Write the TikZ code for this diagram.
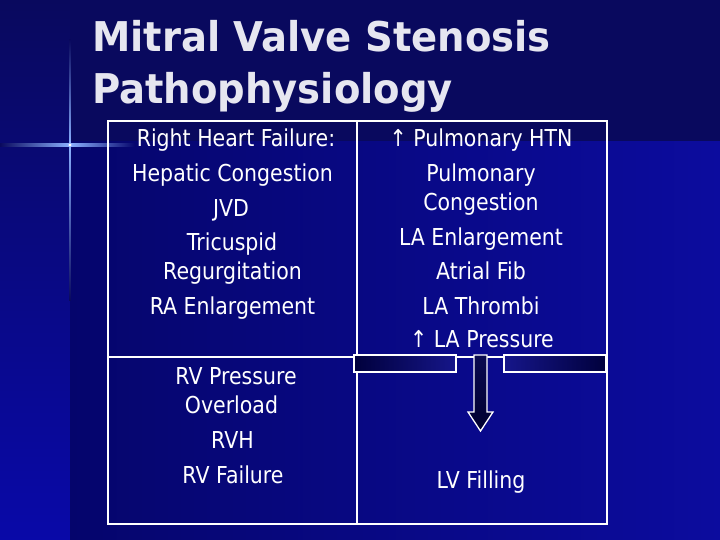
\documentclass[tikz,border=0pt]{standalone}
\usepackage{fontspec}
\usepackage{graphicx}
\newfontfamily\dejavu{DejaVu Sans}
\definecolor{bgtop}{HTML}{09095E}
\definecolor{stripbot}{HTML}{0909A8}
\definecolor{bgleft}{HTML}{05056C}
\definecolor{bgmid}{HTML}{0A0A90}
\definecolor{bgright}{HTML}{0C0C9E}
\definecolor{titlecol}{HTML}{E6E6F0}
\definecolor{flare}{HTML}{8AB0FF}
\definecolor{bardark}{HTML}{00003C}
\definecolor{barlight}{HTML}{16168A}
\definecolor{arrtop}{HTML}{0A0A50}
\definecolor{arrbot}{HTML}{000030}
\newcommand\hsq[1]{\scalebox{0.88}[1]{#1}}
\newcommand\tsq[1]{\scalebox{0.94}[1]{#1}}
\begin{document}
\begin{tikzpicture}[x=1pt,y=-1pt,
  body/.style={font=\dejavu\fontsize{23.3}{28}\selectfont, text=white, anchor=base, inner sep=0pt},
  ttl/.style={font=\dejavu\bfseries\fontsize{41}{48}\selectfont, text=titlecol, anchor=base west, inner sep=0pt},
  frameline/.style={draw=white, line width=2.2pt},
  valvebar/.style={draw=white, line width=1.3pt}]
\useasboundingbox (0,0) rectangle (720,540);
% background
\fill[bgtop] (0,0) rectangle (720,540);
\shade[top color=bgtop, bottom color=stripbot] (0,0) rectangle (70,540);
\shade[left color=bgleft, middle color=bgmid, right color=bgright] (70,142) rectangle (720,540);
% lens flare
\shade[left color=bgtop, right color=flare] (0,144) rectangle (70,146.2);
\shade[left color=flare, right color=bgleft] (70,144) rectangle (135,146.2);
\shade[top color=bgtop, bottom color=flare] (69.2,40) rectangle (70.8,145);
\shade[top color=flare, bottom color=bgtop] (69.2,145) rectangle (70.8,300);
\fill[white] (70,145) circle (1.6);
% title
\node[ttl] (t1) at (92,52) {\tsq{Mitral Valve Stenosis}};
\node[ttl] (t2) at (92,104) {\tsq{Pathophysiology}};
% frame
\draw[frameline] (108,121) rectangle (607,524);
\draw[frameline] (357,121) -- (357,524);
\draw[frameline] (108,357) -- (607,357);
% valve bars
\shade[valvebar, left color=bardark, right color=barlight] (354,355) rectangle (456,372);
\shade[valvebar, left color=barlight, right color=bardark] (504,355) rectangle (606,372);
% block arrow
\shade[valvebar, top color=arrtop, bottom color=arrbot]
  (474,355) -- (487,355) -- (487,412) -- (493,412) -- (480.5,431) -- (468,412) -- (474,412) -- cycle;
% left column
\node[body] (rhf) at (236,147) {\hsq{Right Heart Failure:}};
\node[body] (hep) at (232.5,182) {\hsq{Hepatic Congestion}};
\node[body] (jvd) at (231,217) {\hsq{JVD}};
\node[body] (tri) at (232,251) {\hsq{Tricuspid}};
\node[body] (reg) at (232.5,279) {\hsq{Regurgitation}};
\node[body] (rae) at (232.5,314) {\hsq{RA Enlargement}};
\node[body] (rvp) at (236,384) {\hsq{RV Pressure}};
\node[body] (ovl) at (231.5,413) {\hsq{Overload}};
\node[body] (rvh) at (232.5,448) {\hsq{RVH}};
\node[body] (rvf) at (233,483) {\hsq{RV Failure}};
% right column
\node[body] (phtn) at (481,147) {\hsq{↑ Pulmonary HTN}};
\node[body] (pul) at (481,182) {\hsq{Pulmonary}};
\node[body] (con) at (481,211) {\hsq{Congestion}};
\node[body] (lae) at (481,245) {\hsq{LA Enlargement}};
\node[body] (af) at (481,279) {\hsq{Atrial Fib}};
\node[body] (lat) at (481,314) {\hsq{LA Thrombi}};
\node[body] (lap) at (482,347) {\hsq{↑ LA Pressure}};
\node[body] (lvf) at (481,488) {\hsq{LV Filling}};
\end{tikzpicture}
\end{document}
